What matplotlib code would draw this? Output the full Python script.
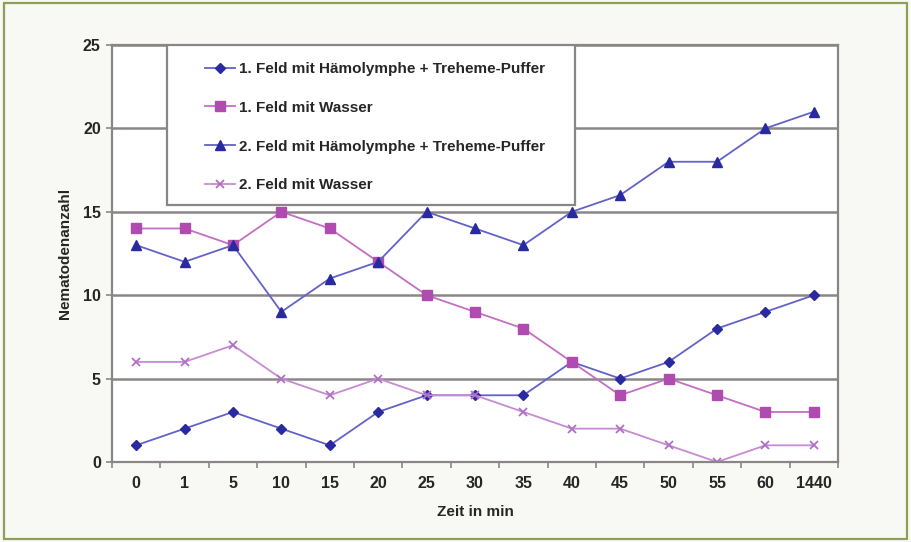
import numpy as np
import matplotlib.pyplot as plt
from matplotlib.patches import Rectangle

plt.rcParams['font.family'] = ['Liberation Sans', 'DejaVu Sans']

zeiten = ["0", "1", "5", "10", "15", "20", "25", "30", "35", "40", "45", "50", "55", "60", "1440"]
feld1_haemo = [1, 2, 3, 2, 1, 3, 4, 4, 4, 6, 5, 6, 8, 9, 10]
feld1_wasser = [14, 14, 13, 15, 14, 12, 10, 9, 8, 6, 4, 5, 4, 3, 3]
feld2_haemo = [13, 12, 13, 9, 11, 12, 15, 14, 13, 15, 16, 18, 18, 20, 21]
feld2_wasser = [6, 6, 7, 5, 4, 5, 4, 4, 3, 2, 2, 1, 0, 1, 1]

x = np.arange(len(zeiten))
grau = '#8a8686'
schrift = '#262626'

fig = plt.figure(figsize=(9.11, 5.42), dpi=100, facecolor='#f8f8f5')
# olivgruener Rahmen um die ganze Grafik
fig.patches.append(Rectangle((0.004, 0.006), 0.992, 0.988, transform=fig.transFigure,
                             fill=False, edgecolor='#8f9f55', linewidth=1.6))

ax = fig.add_axes([0.1229, 0.1476, 0.797, 0.7694])
ax.set_facecolor('white')

ax.plot(x, feld1_haemo, color='#6262c8', marker='D', markersize=5,
        markerfacecolor='#2a2aa0', markeredgecolor='#2a2aa0', linewidth=1.3,
        label='1. Feld mit Hämolymphe + Treheme-Puffer')
ax.plot(x, feld1_wasser, color='#c46ec4', marker='s', markersize=7,
        markerfacecolor='#b04cb0', markeredgecolor='#b04cb0', linewidth=1.3,
        label='1. Feld mit Wasser')
ax.plot(x, feld2_haemo, color='#6262c8', marker='^', markersize=7,
        markerfacecolor='#2a2aa0', markeredgecolor='#2a2aa0', linewidth=1.3,
        label='2. Feld mit Hämolymphe + Treheme-Puffer')
ax.plot(x, feld2_wasser, color='#c88ad6', marker='x', markersize=6,
        markeredgecolor='#b070c8', markeredgewidth=1.3, linewidth=1.3,
        label='2. Feld mit Wasser')

ax.set_xlim(-0.5, len(zeiten) - 0.5)
ax.set_ylim(0, 25)
ax.set_yticks([0, 5, 10, 15, 20, 25])
ax.yaxis.grid(True, color=grau, linewidth=1.8)
ax.set_axisbelow(True)

ax.set_xticks(x)
ax.set_xticklabels(zeiten)
ax.set_xticks(np.arange(-0.5, len(zeiten)), minor=True)
ax.tick_params(axis='x', which='major', length=0, pad=10, labelsize=11.5, labelcolor=schrift)
ax.tick_params(axis='x', which='minor', length=4, color=grau, width=1.2)
ax.tick_params(axis='y', length=4, color=grau, width=1.2, labelsize=11.5,
               labelcolor=schrift, pad=4)
for lab in ax.get_xticklabels() + ax.get_yticklabels():
    lab.set_fontweight('bold')

for s in ax.spines.values():
    s.set_color(grau)
    s.set_linewidth(1.6)

ax.set_xlabel('Zeit in min', fontsize=11, fontweight='bold', labelpad=10, color=schrift)
ax.set_ylabel('Nematodenanzahl', fontsize=11, fontweight='bold', labelpad=8, color=schrift)

# Legendenkasten, ueber die Gitterlinie gelegt
ax.add_patch(Rectangle((0.0758, 0.616), 0.562, 0.384, transform=ax.transAxes,
                       facecolor='white', edgecolor=grau, linewidth=1.6, zorder=3))
leg = ax.legend(loc='upper left', bbox_to_anchor=(0.128, 0.959), borderaxespad=0,
                borderpad=0, frameon=False,
                prop={'weight': 'bold', 'size': 11},
                labelspacing=1.62, handlelength=2.0, handletextpad=0.25)
leg.set_zorder(4)
for t in leg.get_texts():
    t.set_color(schrift)

fig.savefig('out.png', dpi=100, facecolor=fig.get_facecolor())
